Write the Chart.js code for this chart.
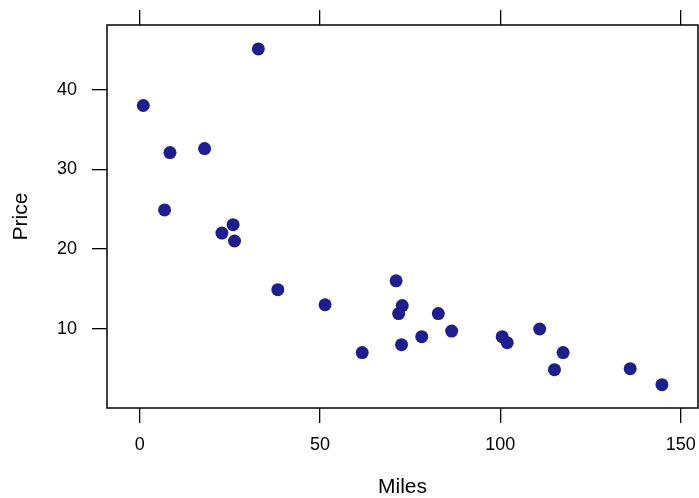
<!DOCTYPE html>
<html>
<head>
<meta charset="utf-8">
<script src="https://cdn.jsdelivr.net/npm/chart.js@4"></script>
<style>
  html, body { margin: 0; padding: 0; background: #fff; }
  #wrap { width: 699px; height: 498px; }
</style>
</head>
<body>
<div id="wrap"><canvas id="grafico"></canvas></div>
<script>
// Dados
const miles = [1.0, 32.9, 8.4, 18.0, 6.9, 22.8, 25.9, 26.3, 38.3, 51.4, 61.7, 71.1, 72.8, 71.8, 72.6, 78.2, 82.8, 86.5, 100.5, 101.9, 110.9, 115.0, 117.4, 136.0, 144.8];
const price = [38.0, 45.1, 32.1, 32.6, 24.9, 22.0, 23.05, 21.0, 14.9, 13.0, 7.0, 16.0, 12.9, 11.9, 8.0, 9.0, 11.9, 9.7, 9.0, 8.24, 9.96, 4.86, 7.0, 4.98, 2.98];
const xTicks = [0, 50, 100, 150];
const yTicks = [10, 20, 30, 40];

const pontos = miles.map((m, i) => ({ x: m, y: price[i] }));
const fonte = "'Liberation Sans', Arial, sans-serif";

// Moldura do painel
const moldura = {
  id: "moldura",
  afterDraw(chart) {
    const { ctx, chartArea: a } = chart;
    ctx.save();
    ctx.strokeStyle = "#000";
    ctx.lineWidth = 1.5;
    ctx.strokeRect(a.left, a.top, a.right - a.left, a.bottom - a.top);
    ctx.restore();
  },
};

const setTicks = (vals) => (scale) => {
  scale.ticks = vals.map((v) => ({ value: v }));
};

// altura fixa e sem folga lateral para os rótulos
const fixH = (h) => (s) => {
  s.height = h;
  s.paddingLeft = 0;
  s.paddingRight = 0;
};

const gridCfg = {
  display: true,
  drawOnChartArea: false,
  drawTicks: true,
  tickLength: 15,
  color: "#000",
  lineWidth: 1.3,
};

new Chart(document.getElementById("grafico"), {
  type: "scatter",
  data: {
    datasets: [
      {
        data: pontos,
        backgroundColor: "rgb(30,30,140)",
        borderWidth: 0,
        pointRadius: 6.5,
        pointHoverRadius: 6.5,
      },
    ],
  },
  options: {
    responsive: true,
    maintainAspectRatio: false,
    animation: false,
    layout: { autoPadding: false, padding: { right: 1 } },
    plugins: { legend: { display: false }, tooltip: { enabled: false } },
    scales: {
      x: {
        type: "linear",
        position: "bottom",
        min: -9.06,
        max: 154.8,
        afterBuildTicks: setTicks(xTicks),
        afterFit: fixH(90),
        grid: gridCfg,
        border: { display: false },
        ticks: { color: "#000", font: { family: fonte, size: 18 }, padding: 11, maxRotation: 0 },
        title: {
          display: true,
          text: "Miles",
          color: "#000",
          font: { family: fonte, size: 21, lineHeight: 1 },
          padding: { top: 0, bottom: 0 },
        },
      },
      x2: {
        type: "linear",
        position: "top",
        min: -9.06,
        max: 154.8,
        afterBuildTicks: setTicks(xTicks),
        afterFit: fixH(25),
        grid: gridCfg,
        border: { display: false },
        ticks: { display: false },
      },
      y: {
        type: "linear",
        position: "left",
        min: 0.05,
        max: 48.1,
        afterBuildTicks: setTicks(yTicks),
        afterFit: (s) => { s.width = 107; s.paddingTop = 0; s.paddingBottom = 0; },
        grid: gridCfg,
        border: { display: false },
        ticks: { color: "#000", font: { family: fonte, size: 18 }, padding: 15 },
        title: {
          display: true,
          text: "Price",
          color: "#000",
          font: { family: fonte, size: 21, lineHeight: 1 },
          padding: { top: 11, bottom: 0 },
        },
      },
    },
  },
  plugins: [moldura],
});
</script>
</body>
</html>
